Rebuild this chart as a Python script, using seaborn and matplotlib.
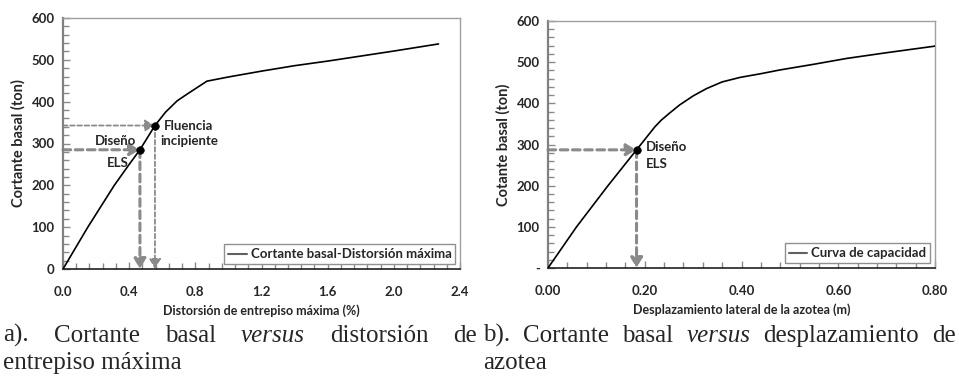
import numpy as np
import pandas as pd
import matplotlib
matplotlib.use("Agg")
import matplotlib.pyplot as plt
import matplotlib.ticker as mticker
from matplotlib.lines import Line2D
import seaborn as sns

# --------------------------------------------------
# Data

# a) base shear vs max interstory drift
drift_pct = [0, 0.15, 0.31, 0.40, 0.465, 0.556, 0.62, 0.69, 0.75, 0.87, 1.0, 1.2, 1.4, 1.6, 1.8, 2.0, 2.27]
shear_a = [0, 100, 200, 250, 285, 343, 375, 402, 418, 449, 459, 473, 486, 497, 509, 521, 538]

# b) capacity curve (roof displacement)
roof_disp = [0, 0.059, 0.124, 0.183, 0.221, 0.234, 0.25, 0.272, 0.30, 0.328, 0.36, 0.397, 0.44, 0.479, 0.55, 0.617, 0.7, 0.8]
shear_b = [0, 100, 200, 287, 343, 359, 375, 396, 418, 436, 452, 463, 472, 481, 495, 509, 523, 539]

design_a = (0.465, 285)
yield_a = (0.556, 343)
design_b = (0.183, 287)

df_a = pd.DataFrame({"x": drift_pct, "y": shear_a})
df_b = pd.DataFrame({"x": roof_disp, "y": shear_b})

# --------------------------------------------------
sns.set_style("ticks")
plt.rcParams["font.family"] = ["Lato", "DejaVu Sans"]
plt.rcParams["font.weight"] = "bold"

fig = plt.figure(figsize=(9.59, 3.81), dpi=100)
ax1 = fig.add_axes([63/959, 1-269/381, 397/959, 251/381])
ax2 = fig.add_axes([548/959, 1-268/381, 387/959, 247/381])

arrow_col = "#8a8a8a"


def style_axis(ax, xmax, xmajor, zero_label):
    ax.set_ylim(0, 600)
    ax.set_xlim(0, xmax)
    ax.yaxis.set_major_locator(mticker.MultipleLocator(100))
    ax.yaxis.set_minor_locator(mticker.MultipleLocator(20))
    ax.xaxis.set_major_locator(mticker.MultipleLocator(xmajor))
    ax.xaxis.set_minor_locator(mticker.MultipleLocator(xmajor / 5))
    ax.tick_params(which="both", direction="in", color="#8a8a8a", labelsize=9.5, pad=6)
    ax.tick_params(which="major", length=5, width=1)
    ax.tick_params(which="minor", length=4, width=1)
    ax.tick_params(axis="x", pad=12)
    for s in ["top", "right"]:
        ax.spines[s].set_visible(True)
        ax.spines[s].set_color("#a0a0a0")
        ax.spines[s].set_linewidth(1)
    ax.spines["left"].set_color("#808080")
    ax.spines["left"].set_linewidth(1.6)
    ax.spines["bottom"].set_color("#202020")
    ax.spines["bottom"].set_linewidth(1.2)
    ax.yaxis.set_major_formatter(
        mticker.FuncFormatter(lambda v, p: zero_label if v == 0 else f"{v:.0f}"))
    for lab in ax.get_xticklabels() + ax.get_yticklabels():
        lab.set_fontweight("bold")


def dashed_arrow(ax, start, end, lw):
    ax.annotate("", xy=end, xytext=start,
                arrowprops=dict(arrowstyle="-|>,head_length=0.6,head_width=0.35",
                                color=arrow_col, lw=lw, linestyle=(0, (2.5, 1.5)),
                                shrinkA=0, shrinkB=0), zorder=2)


# ---------------- panel a
sns.lineplot(data=df_a, x="x", y="y", ax=ax1, color="black", lw=1.2, zorder=3)
dashed_arrow(ax1, (0, design_a[1]), design_a, 2.2)
dashed_arrow(ax1, design_a, (design_a[0], 0), 2.2)
dashed_arrow(ax1, (0, yield_a[1]), yield_a, 1.3)
dashed_arrow(ax1, yield_a, (yield_a[0], 0), 1.3)
sns.scatterplot(x=[design_a[0], yield_a[0]], y=[design_a[1], yield_a[1]], ax=ax1,
                color="black", s=30, edgecolor="black", zorder=4)
ax1.text(0.445, 307, "Diseño", ha="right", va="center", fontsize=9.5, fontweight="bold")
ax1.text(0.40, 253, "ELS", ha="right", va="center", fontsize=9.5, fontweight="bold")
ax1.text(0.61, 343, "Fluencia", ha="left", va="center", fontsize=9.5, fontweight="bold")
ax1.text(0.59, 307, "incipiente", ha="left", va="center", fontsize=9.5, fontweight="bold")
style_axis(ax1, 2.4, 0.4, "0")
ax1.xaxis.set_major_formatter(mticker.FormatStrFormatter("%.1f"))
ax1.set_xlabel("Distorsión de entrepiso máxima (%)", fontsize=9, fontweight="bold", labelpad=5)
ax1.set_ylabel("Cortante basal (ton)", fontsize=10.5, fontweight="bold", labelpad=4)
ax1.legend(handles=[Line2D([], [], color="#606060", lw=1.5)],
           labels=["Cortante basal-Distorsión máxima"], loc="lower right",
           fancybox=False, edgecolor="#909090", handlelength=1.4,
           handletextpad=0.3, borderpad=0.3, borderaxespad=0.35, framealpha=1,
           prop=dict(weight="bold", size=9.5))

# ---------------- panel b
sns.lineplot(data=df_b, x="x", y="y", ax=ax2, color="black", lw=1.2, zorder=3)
dashed_arrow(ax2, (0, design_b[1]), design_b, 2.2)
dashed_arrow(ax2, design_b, (design_b[0], 0), 2.2)
sns.scatterplot(x=[design_b[0]], y=[design_b[1]], ax=ax2,
                color="black", s=30, edgecolor="black", zorder=4)
ax2.text(0.203, 295, "Diseño", ha="left", va="center", fontsize=9.5, fontweight="bold")
ax2.text(0.203, 253, "ELS", ha="left", va="center", fontsize=9.5, fontweight="bold")
style_axis(ax2, 0.8, 0.2, "-")
ax2.xaxis.set_major_formatter(mticker.FormatStrFormatter("%.2f"))
ax2.set_xlabel("Desplazamiento lateral de la azotea (m)", fontsize=9, fontweight="bold", labelpad=5)
ax2.set_ylabel("Cotante basal (ton)", fontsize=10.5, fontweight="bold", labelpad=4)
ax2.legend(handles=[Line2D([], [], color="#606060", lw=1.5)],
           labels=["Curva de capacidad"], loc="lower right",
           fancybox=False, edgecolor="#909090", handlelength=1.4,
           handletextpad=0.3, borderpad=0.3, borderaxespad=0.35, framealpha=1,
           prop=dict(weight="bold", size=9.5))

# ---------------- captions (justified first lines)
cap_font = dict(family="Liberation Serif", size=18, weight="normal")
renderer = fig.canvas.get_renderer()


def justified(words, x0, x1, y):
    arts = []
    for w, ital in words:
        t = fig.text(0, y, w, fontstyle="italic" if ital else "normal",
                     va="baseline", ha="left", **cap_font)
        arts.append(t)
    widths = [a.get_window_extent(renderer).width for a in arts]
    gap = max(((x1 - x0) - sum(widths)) / (len(arts) - 1), 4)
    x = x0
    for a, w in zip(arts, widths):
        a.set_x(x / 959)
        x += w + gap


y1 = 1 - 342/381
y2 = 1 - 369/381
justified([("a).", 0), ("Cortante", 0), ("basal", 0), ("versus", 1),
           ("distorsión", 0), ("de", 0)], 3, 477, y1)
fig.text(3/959, y2, "entrepiso máxima", va="baseline", ha="left", **cap_font)
justified([("b).", 0), ("Cortante", 0), ("basal", 0), ("versus", 1),
           ("desplazamiento", 0), ("de", 0)], 483, 956, y1)
fig.text(483/959, y2, "azotea", va="baseline", ha="left", **cap_font)

fig.savefig("out.png", dpi=100)
